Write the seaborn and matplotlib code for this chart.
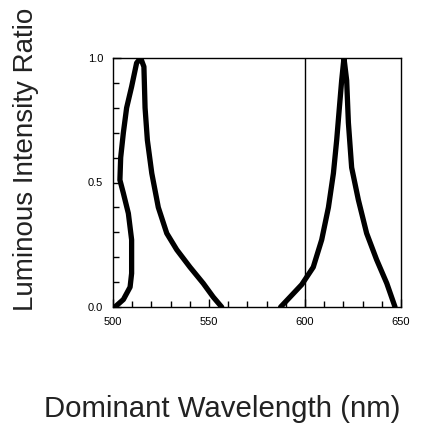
import numpy as np
import pandas as pd
import matplotlib
matplotlib.use("Agg")
import matplotlib.pyplot as plt
from matplotlib.ticker import MultipleLocator
import seaborn as sns

# Curve values (wavelength in nm, relative intensity)
blue_nm = [501.0, 505.4, 508.9, 509.7, 509.7, 508.0, 505.4, 503.6, 504.0, 505.4,
           507.1, 509.7, 512.3, 514.4, 516.1, 516.7, 517.9, 520.2, 523.6, 528.0,
           533.2, 540.1, 547.0, 552.2, 556.6]
blue_ratio = [0.0, 0.03, 0.08, 0.135, 0.27, 0.376, 0.457, 0.51, 0.60, 0.70,
              0.80, 0.885, 0.98, 1.0, 0.965, 0.80, 0.67, 0.537, 0.40, 0.296,
              0.23, 0.16, 0.095, 0.04, 0.0]

red_nm = [587.3, 592.2, 598.3, 604.3, 608.7, 612.2, 614.8, 616.5, 617.9, 619.1,
          620.3, 621.7, 622.6, 624.3, 627.8, 632.1, 637.3, 642.6, 646.9]
red_ratio = [0.0, 0.04, 0.09, 0.16, 0.27, 0.40, 0.537, 0.67, 0.80, 0.91,
             1.0, 0.91, 0.74, 0.56, 0.43, 0.296, 0.19, 0.095, 0.0]

x_ticks = [500, 550, 600, 650]
y_ticks = [0.0, 0.5, 1.0]
marker_nm = 600

sns.set_style("white")
plt.rcParams["font.family"] = ["Liberation Sans", "DejaVu Sans"]

fig = plt.figure(figsize=(4.21, 4.24), dpi=100)
ax = fig.add_axes([113 / 421, 117 / 424, 288 / 421, 249 / 424])

for xs, ys in [(blue_nm, blue_ratio), (red_nm, red_ratio)]:
    d = pd.DataFrame({"nm": xs, "ratio": ys})
    sns.lineplot(data=d, x="nm", y="ratio", sort=False, estimator=None,
                 color="black", linewidth=3.8, ax=ax)

ax.axvline(marker_nm, color="black", linewidth=1.0)

ax.set_xlim(500, 650)
ax.set_ylim(0, 1.0)
ax.set_xticks(x_ticks)
ax.set_xticklabels([str(t) for t in x_ticks])
ax.set_yticks(y_ticks)
ax.set_yticklabels([f"{t:.1f}" for t in y_ticks])
ax.xaxis.set_minor_locator(MultipleLocator(10))
ax.yaxis.set_minor_locator(MultipleLocator(0.1))
ax.tick_params(which="both", direction="in", color="black", width=1.0,
               labelsize=8, colors="black", bottom=True, left=True)
ax.tick_params(which="major", length=6, pad=7)
ax.tick_params(which="minor", length=4)
for s in ax.spines.values():
    s.set_color("black")
    s.set_linewidth(1.0)
ax.set_xlabel("")
ax.set_ylabel("")

fig.text(33 / 421, 1 - 311 / 424, "Luminous Intensity Ratio", rotation=90,
         rotation_mode="anchor", ha="left", va="baseline", fontsize=20,
         color="#222222")
fig.text(44 / 421, 1 - 417 / 424, "Dominant Wavelength (nm)", ha="left",
         va="baseline", fontsize=21.2, color="#222222")

fig.savefig("out.png", dpi=100)
